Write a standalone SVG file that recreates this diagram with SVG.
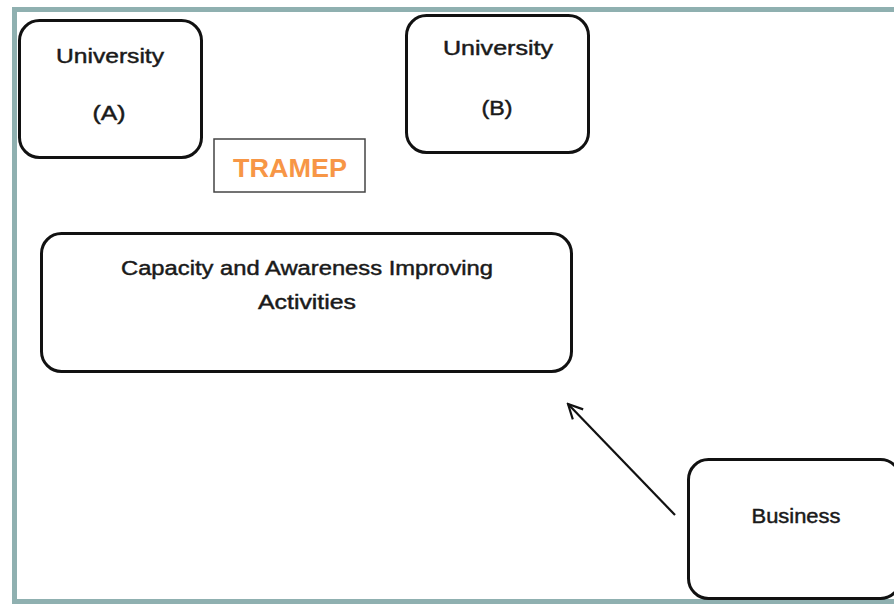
<svg xmlns="http://www.w3.org/2000/svg" width="894" height="605" viewBox="0 0 894 605">
<defs>
<style>
.frame{fill:#ffffff;stroke:#8fb0b0;stroke-width:5}
.node{fill:#ffffff;stroke:#111111;stroke-width:3}
.lbl{font-family:"Liberation Sans",Arial,sans-serif;font-size:20px;fill:#1a1a1a;stroke:#1a1a1a;stroke-width:0.45;text-anchor:middle}
.tram{font-family:"Liberation Sans",Arial,sans-serif;font-size:26px;font-weight:bold;fill:#f79646;text-anchor:middle}
.conn{fill:none;stroke:#111111;stroke-width:2.2}
</style>
<marker id="open" viewBox="0 0 20 20" refX="18" refY="10" markerWidth="18" markerHeight="18" markerUnits="userSpaceOnUse" orient="auto">
<path d="M2,2 L18,10 L2,18" fill="none" stroke="#111111" stroke-width="2.4"/>
</marker>
</defs>
<rect x="0" y="0" width="894" height="605" fill="#ffffff"/>
<rect class="frame" x="14.5" y="9.5" width="900" height="592"/>
<g id="univA">
<rect class="node" x="19.5" y="20.5" width="182" height="137" rx="20"/>
<text class="lbl" x="110" y="63" textLength="108" lengthAdjust="spacingAndGlyphs">University</text>
<text class="lbl" x="109" y="120" textLength="33" lengthAdjust="spacingAndGlyphs">(A)</text>
</g>
<g id="univB">
<rect class="node" x="406.5" y="15.5" width="182" height="137" rx="20"/>
<text class="lbl" x="498" y="55" textLength="110" lengthAdjust="spacingAndGlyphs">University</text>
<text class="lbl" x="497" y="115" textLength="31" lengthAdjust="spacingAndGlyphs">(B)</text>
</g>
<g id="tramep">
<rect x="214" y="139" width="151" height="53" fill="#ffffff" stroke="#444444" stroke-width="1.5"/>
<text class="tram" x="290" y="177" textLength="114" lengthAdjust="spacingAndGlyphs">TRAMEP</text>
</g>
<g id="activities">
<rect class="node" x="41.5" y="233.5" width="530" height="138" rx="20"/>
<text class="lbl" x="307" y="275" textLength="372" lengthAdjust="spacingAndGlyphs">Capacity and Awareness Improving</text>
<text class="lbl" x="307" y="309" textLength="98" lengthAdjust="spacingAndGlyphs">Activities</text>
</g>
<g id="business">
<rect class="node" x="688.5" y="459.5" width="212" height="139" rx="20"/>
<text class="lbl" x="796" y="523" textLength="89" lengthAdjust="spacingAndGlyphs">Business</text>
</g>
<g id="connectors">
<line class="conn" x1="675" y1="515" x2="568" y2="404" marker-end="url(#open)"/>
</g>
</svg>
